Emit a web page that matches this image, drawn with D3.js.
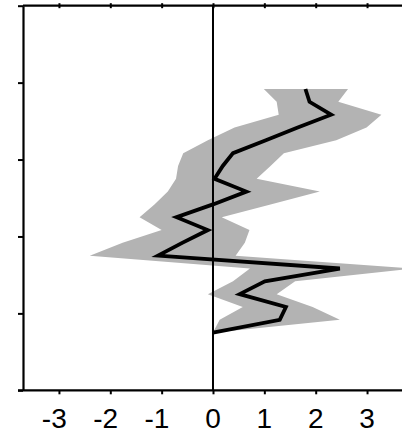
<!DOCTYPE html>
<html>
<head>
<meta charset="utf-8">
<script src="https://cdn.jsdelivr.net/npm/d3@7"></script>
<style>
  body { margin: 0; background: #fff; }
  svg { display: block; }
</style>
</head>
<body>
<div id="chart"></div>
<script>
var width = 402,
    height = 436;

// levels, bottom (1) to top (20)
var levels = [1, 2, 3, 4, 5, 6, 7, 8, 9, 10, 11, 12, 13, 14, 15, 16, 17, 18, 19, 20];
// estimate (black line)
var estimate = [0.00, 1.30, 1.42, 0.52, 1.01, 2.47, -1.07, -0.60, -0.10, -0.71,
                0.00, 0.65, 0.03, 0.19, 0.39, 1.03, 1.65, 2.30, 1.88, 1.80];
// grey band bounds
var lower = [0.00, 0.13, 0.58, -0.10, 0.39, 0.72, -2.40, -1.76, -1.00, -1.43,
             -1.14, -0.88, -0.72, -0.68, -0.58, -0.10, 0.42, 1.28, 1.24, 0.99];
var upper = [0.04, 2.47, 1.94, 1.24, 1.60, 3.90, 0.44, 0.62, 0.71, 0.17,
             1.12, 2.08, 0.85, 1.12, 1.38, 2.40, 2.99, 3.28, 2.44, 2.63];

var xTicks = [-3, -2, -1, 0, 1, 2, 3];
var yTicks = [-3.5, 2.5, 8.5, 14.5, 20.5, 26.5];

var plotLeft = 23, plotTop = 5.7, plotBottom = 390.3;

var x = d3.scaleLinear().domain([-3.7, 3.7]).range([plotLeft, plotLeft + 7.4 * 51.35]);
var y = d3.scaleLinear().domain([-3.5, 26.5]).range([plotBottom, plotTop]);

var data = levels.map(function(l, i) {
  return { level: l, est: estimate[i], lo: lower[i], hi: upper[i] };
});

var svg = d3.select("#chart")
  .append("svg")
  .attr("width", width)
  .attr("height", height);

// band
var area = d3.area()
  .y(function(d) { return y(d.level); })
  .x0(function(d) { return x(d.lo); })
  .x1(function(d) { return x(d.hi); });

svg.append("path")
  .datum(data)
  .attr("d", area)
  .style("fill", "#b3b3b3")
  .style("stroke", "none");

// zero line
svg.append("line")
  .attr("x1", x(0)).attr("x2", x(0))
  .attr("y1", plotTop).attr("y2", plotBottom)
  .style("stroke", "#000")
  .style("stroke-width", "2px");

// estimate line
var line = d3.line()
  .y(function(d) { return y(d.level); })
  .x(function(d) { return x(d.est); });

svg.append("path")
  .datum(data)
  .attr("d", line)
  .style("fill", "none")
  .style("stroke", "#000")
  .style("stroke-width", "3.8px")
  .style("stroke-linejoin", "miter");

// AXES
var axisB = d3.axisBottom(x).tickValues(xTicks).tickSizeInner(4).tickSizeOuter(0).tickFormat("");
var gB = svg.append("g")
  .attr("transform", "translate(0," + plotBottom + ")")
  .call(axisB);

var axisT = d3.axisTop(x).tickValues(xTicks).tickSizeInner(2.5).tickSizeOuter(0).tickFormat("");
var gT = svg.append("g")
  .attr("transform", "translate(0," + plotTop + ")")
  .call(axisT);
gT.selectAll(".tick line").attr("y1", 2.5);

var axisL = d3.axisLeft(y).tickValues(yTicks).tickSizeInner(5).tickSizeOuter(0).tickFormat("");
var gL = svg.append("g")
  .attr("transform", "translate(" + plotLeft + ",0)")
  .call(axisL);

svg.selectAll(".domain").style("stroke", "#000").style("stroke-width", "2.2px");
svg.selectAll(".tick line").style("stroke", "#000").style("stroke-width", "2px");

// extend the top and bottom lines to the right edge
gB.select(".domain").attr("d", "M" + (plotLeft - 5) + ",0H" + width);
gT.select(".domain").attr("d", "M" + plotLeft + ",0H" + width);

// tick labels (digit centred on tick)
svg.append("g")
  .selectAll("text")
  .data(xTicks)
  .enter().append("text")
  .attr("x", function(d) { return x(d) + 7.8; })
  .attr("y", 428)
  .attr("text-anchor", "end")
  .style("font-family", "'Liberation Sans', Arial, sans-serif")
  .style("font-size", "28px")
  .style("fill", "#000")
  .text(function(d) { return d; });
</script>
</body>
</html>
